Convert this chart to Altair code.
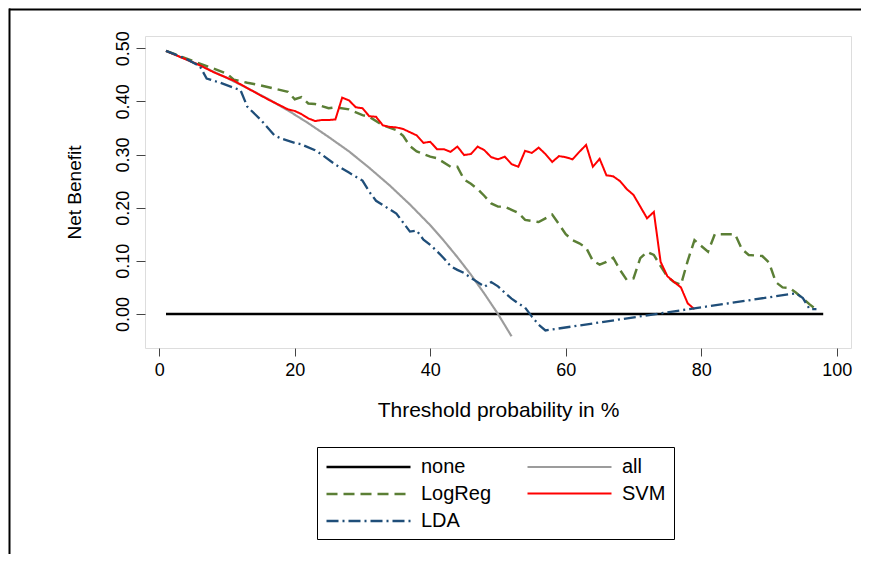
import altair as alt
import pandas as pd

# ---- data ----
none_x = [1, 98]
none_y = [0.0, 0.0]

all_x = [1, 4, 7, 10, 13, 16, 19, 22, 25, 28, 31, 34, 37, 40, 42, 44, 46, 48, 50, 52]
all_y = [0.495, 0.479, 0.462, 0.444, 0.425, 0.405, 0.383, 0.359, 0.333, 0.306,
         0.275, 0.242, 0.206, 0.167, 0.138, 0.107, 0.074, 0.038, 0.000, -0.042]

svm_x = [1, 3, 6, 8, 11, 14, 16, 19,
         20, 21, 22, 23, 24, 25, 26, 27, 28, 29,
         30, 31, 32, 33, 34, 35, 36, 37, 38, 39,
         40, 41, 42, 43, 44, 45, 46, 47, 48, 49,
         50, 51, 52, 53, 54, 55, 56, 57, 58, 59,
         60, 61, 62, 63, 64, 65, 66, 67, 68, 69,
         70, 71, 72, 73, 74, 75, 76, 77, 78, 79]
svm_y = [0.495, 0.484, 0.468, 0.455, 0.439, 0.418, 0.404, 0.385,
         0.382, 0.376, 0.368, 0.363, 0.365, 0.365, 0.366, 0.407, 0.402, 0.389,
         0.387, 0.372, 0.371, 0.355, 0.352, 0.351, 0.348, 0.342, 0.336, 0.322,
         0.324, 0.310, 0.310, 0.305, 0.315, 0.299, 0.301, 0.315, 0.308, 0.295,
         0.291, 0.296, 0.282, 0.277, 0.307, 0.303, 0.313, 0.301, 0.286, 0.297,
         0.295, 0.291, 0.305, 0.318, 0.277, 0.292, 0.261, 0.259, 0.250, 0.235,
         0.224, 0.202, 0.180, 0.192, 0.098, 0.071, 0.060, 0.050, 0.020, 0.009]

logreg_x = [1, 6, 8, 10, 11, 13, 15, 17, 19, 20, 21, 22, 23, 25, 26, 28, 30, 31,
            33, 35, 36, 37, 38, 40, 41,
            43, 44, 45, 46, 47, 48, 49, 50, 51, 52, 53, 54, 55, 56, 57, 58, 59,
            60, 61, 62, 63, 64, 65, 66, 67, 68, 69, 70, 71, 72, 73, 74, 75, 76,
            77, 78, 79, 80, 81, 82, 83, 84, 85, 86, 87, 88, 89, 90, 91, 92, 93,
            94, 95, 96, 97]
logreg_y = [0.495, 0.471, 0.462, 0.452, 0.441, 0.435, 0.430, 0.424, 0.418, 0.404,
            0.408, 0.396, 0.395, 0.387, 0.389, 0.385, 0.374, 0.371,
            0.355, 0.346, 0.335, 0.316, 0.306, 0.296, 0.293,
            0.277, 0.277, 0.253, 0.245, 0.235, 0.222, 0.208, 0.202, 0.202, 0.196,
            0.190, 0.177, 0.175, 0.173, 0.180, 0.187, 0.169,
            0.150, 0.139, 0.133, 0.125, 0.100, 0.093, 0.098, 0.106, 0.083, 0.064,
            0.067, 0.105, 0.117, 0.111, 0.090, 0.070, 0.060,
            0.055, 0.100, 0.139, 0.128, 0.117, 0.150, 0.150, 0.150, 0.150, 0.122,
            0.111, 0.110, 0.109, 0.097, 0.060, 0.050, 0.049,
            0.040, 0.029, 0.018, 0.008]

lda_x = [1, 4, 6, 7, 9, 12, 13, 15, 17, 18, 20, 21, 23, 24, 26, 28, 30, 31, 32,
         33, 35, 36, 37, 38, 39, 40, 41, 42, 43, 44, 45, 46, 47, 48, 49, 50, 51,
         52, 53, 54, 55, 56, 57, 94, 95, 96, 97]
lda_y = [0.495, 0.480, 0.466, 0.443, 0.435, 0.421, 0.390, 0.365, 0.336, 0.330,
         0.322, 0.319, 0.308, 0.300, 0.281, 0.266, 0.251, 0.230, 0.213,
         0.205, 0.189, 0.172, 0.155, 0.157, 0.140, 0.130, 0.118, 0.105, 0.090,
         0.083, 0.077, 0.068, 0.060, 0.051, 0.060, 0.052, 0.040,
         0.029, 0.020, 0.012, -0.005, -0.020, -0.031, 0.039, 0.030, 0.009, 0.009]

# legend is filled column by column: (none, LogReg, LDA) then (all, SVM)
series_names = ["none", "LogReg", "LDA", "all", "SVM"]
series_colors = ["#000000", "#5b7f35", "#1f4e79", "#9c9c9c", "#ff0000"]
series_dashes = [[1, 0], [11, 6], [12, 4, 2, 4], [1, 0], [1, 0]]
series_widths = [2.6, 2.0, 2.0, 3.2, 2.0]

x_ticks = [0, 20, 40, 60, 80, 100]
y_ticks = [0.0, 0.1, 0.2, 0.3, 0.4, 0.5]

rows = []
for name, xs, ys in [("none", none_x, none_y), ("all", all_x, all_y),
                     ("LogReg", logreg_x, logreg_y), ("SVM", svm_x, svm_y),
                     ("LDA", lda_x, lda_y)]:
    for i, (xv, yv) in enumerate(zip(xs, ys)):
        rows.append({"series": name, "x": xv, "y": yv, "order": i})
df = pd.DataFrame(rows)

FONT = "Liberation Sans"

lines = alt.Chart(df).mark_line(clip=True).encode(
    x=alt.X("x:Q", scale=alt.Scale(domain=[-2.1, 102.1], nice=False, zero=False),
            axis=alt.Axis(values=x_ticks, title="Threshold probability in %",
                          grid=False, domain=False, tickSize=8, tickColor="#444",
                          labelFontSize=18, labelFont=FONT, labelColor="black",
                          labelPadding=5, titleFontSize=21, titleFont=FONT,
                          titleFontWeight="normal", titleColor="black",
                          titlePadding=20)),
    y=alt.Y("y:Q", scale=alt.Scale(domain=[-0.064, 0.523], nice=False, zero=False),
            axis=alt.Axis(values=y_ticks, format=".2f", title="Net Benefit",
                          grid=False, domain=False, tickSize=9, tickColor="#444",
                          labelFontSize=18, labelFont=FONT, labelColor="black",
                          labelAngle=270, labelAlign="center", labelBaseline="alphabetic",
                          labelPadding=8, titleFontSize=19, titleFont=FONT,
                          titleFontWeight="normal", titleColor="black",
                          titlePadding=30)),
    color=alt.Color("series:N", sort=series_names,
                    scale=alt.Scale(domain=series_names, range=series_colors),
                    legend=alt.Legend(title=None, orient="none", legendX=172, legendY=411,
                                      columns=2, symbolType="M-4,0H4", symbolSize=441,
                                      symbolOffset=31.5, symbolStrokeWidth=2.2,
                                      labelFont=FONT, labelFontSize=20,
                                      labelColor="black", labelOffset=40.5, columnPadding=31,
                                      rowPadding=5, padding=8, strokeColor="black",
                                      fillColor="white")),
    strokeDash=alt.StrokeDash("series:N", sort=series_names,
                              scale=alt.Scale(domain=series_names, range=series_dashes)),
    strokeWidth=alt.StrokeWidth("series:N", sort=series_names,
                                scale=alt.Scale(domain=series_names, range=series_widths),
                                legend=None),
    detail=alt.Detail("series:N"),
    order="order:Q",
)

frame_top = alt.Chart(pd.DataFrame({"k": [0]})).mark_rule(color="black", strokeWidth=2).encode(
    x=alt.value(-136), x2=alt.value(716), y=alt.value(-26.5))
frame_left = alt.Chart(pd.DataFrame({"k": [0]})).mark_rule(color="black", strokeWidth=2).encode(
    x=alt.value(-135.5), y=alt.value(-27.5), y2=alt.value(526))

chart = alt.layer(lines, frame_top, frame_left).properties(
    width=706, height=312,
    autosize=alt.AutoSizeParams(type="none"),
    padding={"left": 137, "top": 28, "right": 13, "bottom": 206},
).configure_view(stroke="#222", strokeWidth=1).configure(background="white")

chart.save("out.html", embed_options={"renderer": "svg", "actions": False})
